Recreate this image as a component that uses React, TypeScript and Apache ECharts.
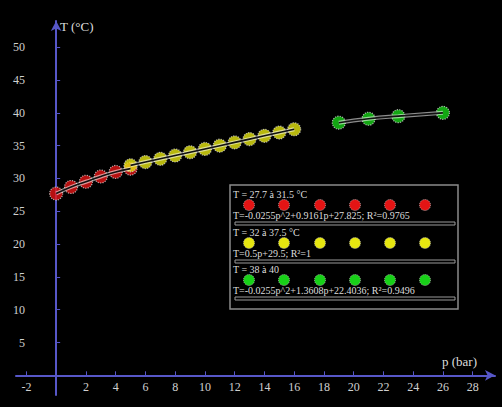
import React, { useEffect, useRef } from "react";
import * as echarts from "echarts";

// Data
const redP = [0, 1, 2, 3, 4, 5];
const redT = [27.7, 28.7, 29.5, 30.3, 31.0, 31.5];
const yellowP = [5, 6, 7, 8, 9, 10, 11, 12, 13, 14, 15, 16];
const yellowT = [32, 32.5, 33, 33.5, 34, 34.5, 35, 35.5, 36, 36.5, 37, 37.5];
const greenP = [19, 21, 23, 26];
const greenT = [38.5, 39.1, 39.5, 40.0];

const xTickLabels = [-2, 2, 4, 6, 8, 10, 12, 14, 16, 18, 20, 22, 24, 26, 28];
const yTickLabels = [5, 10, 15, 20, 25, 30, 35, 40, 45, 50];

const legendTitles = ["T = 27.7 à 31.5 °C", "T = 32 à 37.5 °C", "T = 38 à 40"];
const legendEquations = [
  "T=-0.0255p^2+0.9161p+27.825; R²=0.9765",
  "T=0.5p+29.5; R²=1",
  "T=-0.0255p^2+1.3608p+22.4036; R²=0.9496",
];

const COLORS = ["#e41414", "#e6e610", "#18d018"];
const SERIF = "'Liberation Serif', 'DejaVu Serif', serif";

const pairs = (xs: number[], ys: number[]) => xs.map((x, i) => [x, ys[i]]);

export default function App() {
  const ref = useRef<HTMLDivElement>(null);

  useEffect(() => {
    document.body.style.margin = "0";
    document.body.style.background = "#000";
    const chart = echarts.init(ref.current!, null, { renderer: "svg" });

    const groups = [
      { data: pairs(redP, redT), color: COLORS[0], smooth: true },
      { data: pairs(yellowP, yellowT), color: COLORS[1], smooth: false },
      { data: pairs(greenP, greenT), color: COLORS[2], smooth: true },
    ];

    const series: any[] = [];
    groups.forEach((g) => {
      series.push({
        type: "scatter",
        data: g.data,
        symbol: "circle",
        symbolSize: 13,
        itemStyle: { color: g.color, borderColor: "#cfcfcf", borderWidth: 1.2, borderType: "dotted" },
        z: 2,
      });
      series.push({
        type: "line",
        data: g.data,
        smooth: g.smooth,
        showSymbol: false,
        lineStyle: { color: "#ffffff", width: 4, opacity: 0.55 },
        z: 3,
      });
      series.push({
        type: "line",
        data: g.data,
        smooth: g.smooth,
        showSymbol: false,
        lineStyle: { color: "#111111", width: 1.6 },
        z: 4,
      });
    });

    // Legend box graphics
    const lx = 230;
    const graphics: any[] = [
      {
        type: "rect",
        shape: { x: lx, y: 185, width: 228, height: 124 },
        style: { fill: "#000", stroke: "#8a8a8a", lineWidth: 1.5 },
        z: 10,
      },
    ];
    const sectionTop = [188, 226, 263];
    const markerXs = [249, 284, 320, 355, 390, 425];
    sectionTop.forEach((top, i) => {
      graphics.push({
        type: "text",
        x: lx + 3,
        y: top + 1,
        style: { text: legendTitles[i], fill: "#dddddd", font: `10px ${SERIF}` },
        z: 12,
      });
      markerXs.forEach((mx) => {
        graphics.push({
          type: "circle",
          shape: { cx: mx, cy: top + 17, r: 5.5 },
          style: { fill: COLORS[i], stroke: "#bdbdbd", lineWidth: 0.8, lineDash: [1, 1] },
          z: 11,
        });
      });
      graphics.push({
        type: "text",
        x: lx + 3,
        y: top + 22,
        style: { text: legendEquations[i], fill: "#dddddd", font: `10px ${SERIF}` },
        z: 12,
      });
      graphics.push({
        type: "rect",
        shape: { x: lx + 5, y: top + 34, width: 220, height: 3 },
        style: { fill: "#000", stroke: "#9a9a9a", lineWidth: 1 },
        z: 11,
      });
    });
    graphics.push({
      type: "text",
      x: 60,
      y: 20,
      style: { text: "T (°C)", fill: "#dddddd", font: `13px ${SERIF}` },
      z: 12,
    });
    graphics.push({
      type: "text",
      x: 442,
      y: 355,
      style: { text: "p (bar)", fill: "#dddddd", font: `13px ${SERIF}` },
      z: 12,
    });

    const axisColor = "#5757c8";

    chart.setOption({
      animation: false,
      backgroundColor: "#000000",
      grid: { left: 16, right: 7, top: 21, bottom: 12, containLabel: false, outerBoundsMode: "none" },
      xAxis: {
        type: "value",
        min: -2.7,
        max: 29.5,
        axisLine: {
          onZero: true,
          lineStyle: { color: axisColor, width: 2 },
          symbol: ["none", "arrow"],
          symbolSize: [8, 10],
        },
        axisTick: { show: true, customValues: xTickLabels, length: 4, inside: true, lineStyle: { color: axisColor } },
        axisLabel: {
          customValues: xTickLabels,
          color: "#d0d0d0",
          fontFamily: SERIF,
          fontSize: 12,
          margin: -14,
        },
        splitLine: { show: false },
      },
      yAxis: {
        type: "value",
        min: -3,
        max: 54,
        axisLine: {
          onZero: true,
          lineStyle: { color: axisColor, width: 2 },
          symbol: ["none", "arrow"],
          symbolSize: [8, 10],
        },
        axisTick: { show: true, customValues: yTickLabels, length: 4, inside: true, lineStyle: { color: axisColor } },
        axisLabel: {
          customValues: yTickLabels,
          color: "#d0d0d0",
          fontFamily: SERIF,
          fontSize: 12,
          margin: 2,
          padding: [0, -11, 0, 0],
        },
        splitLine: { show: false },
      },
      series,
      graphic: graphics,
    });

    return () => chart.dispose();
  }, []);

  return (
    <div
      ref={ref}
      style={{ position: "absolute", left: 0, top: 0, width: 502, height: 407, background: "#000" }}
    />
  );
}
